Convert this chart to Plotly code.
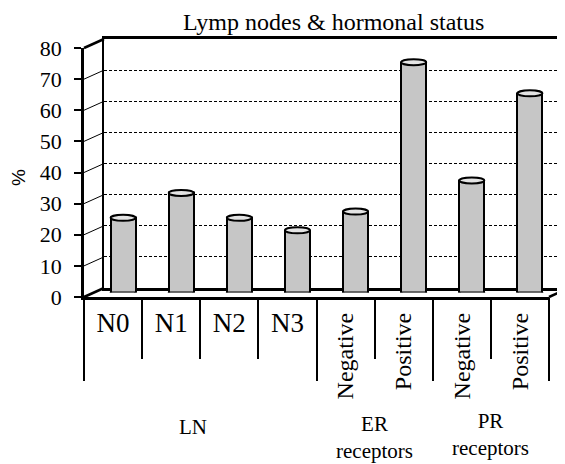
import plotly.graph_objects as go

# ---------------- data ----------------
categories = ["N0", "N1", "N2", "N3", "Negative", "Positive", "Negative", "Positive"]
values = [24, 32, 24, 20, 26, 74, 36, 64]
group_labels = ["LN", "ER<br>receptors", "PR<br>receptors"]
group_bounds = [0, 4, 6, 8]
y_ticks = [0, 10, 20, 30, 40, 50, 60, 70, 80]
title_text = "Lymp nodes & hormonal status"
y_title = "%"

# ---------------- geometry (window pixels) ----------------
W, H = 565, 464
OFF = 8  # page body margin
def px(x):
    return (x - OFF) / W
def py(y):
    return 1 - (y - OFF) / H

FX0, FX1 = 84, 549          # front frame x extents
FY0, FY80 = 297, 48         # front frame y for 0 and 80
DX, DY = 20, 9              # depth offset
BX0, BY0, BY80 = FX0 + DX, FY0 - DY, FY80 - DY
MX0, MX1 = FX0 + DX / 2, FX1 + DX / 2
MY0, MY80 = FY0 - DY / 2, FY80 - DY / 2

SERIF = "Liberation Serif"
n = len(values)
ymax = y_ticks[-1]
unit_px = (MY0 - MY80) / ymax
cap = 3.0 / unit_px
bw = 0.43

fig = go.Figure()

fig.add_trace(go.Scatter(x=[None], y=[None], xaxis="x", yaxis="y",
                         showlegend=False, hoverinfo="skip"))
fig.add_trace(go.Bar(
    x=list(range(n)), y=values, xaxis="x2", yaxis="y2", width=bw,
    marker=dict(color="#c6c6c6", line=dict(color="black", width=2)),
    showlegend=False, hoverinfo="skip"))
fig.add_trace(go.Scatter(x=[None], y=[None], xaxis="x3", yaxis="y3",
                         showlegend=False, hoverinfo="skip"))
for ax in ["x4", "x5", "x6"]:
    fig.add_trace(go.Scatter(x=[None], y=[None], xaxis=ax, yaxis="y3",
                             showlegend=False, hoverinfo="skip"))

shapes = []
for i, v in enumerate(values):
    shapes.append(dict(type="circle", xref="x2", yref="y2", layer="below",
                       x0=i - bw / 2, x1=i + bw / 2, y0=-cap, y1=cap,
                       fillcolor="#c6c6c6", line=dict(color="black", width=2)))
    shapes.append(dict(type="circle", xref="x2", yref="y2", layer="above",
                       x0=i - bw / 2, x1=i + bw / 2, y0=v - cap, y1=v + cap,
                       fillcolor="#e4e4e4", line=dict(color="black", width=2)))

def fy(v):
    return FY0 - (FY0 - FY80) * v / ymax
def by(v):
    return BY0 - (BY0 - BY80) * v / ymax
for v in y_ticks:
    thick = v in (y_ticks[0], y_ticks[-1])
    shapes.append(dict(type="line", xref="paper", yref="paper",
                       x0=px(FX0), y0=py(fy(v)), x1=px(BX0), y1=py(by(v)),
                       line=dict(color="black", width=2.5 if thick else 1)))
shapes.append(dict(type="line", xref="paper", yref="paper",
                   x0=px(FX1), y0=py(FY0), x1=px(FX1 + DX), y1=py(BY0),
                   line=dict(color="black", width=2.5)))

annotations = [
    dict(text=title_text, x=px(333), y=py(22), xref="paper", yref="paper",
         xanchor="center", yanchor="middle",
         showarrow=False, font=dict(family=SERIF, size=24, color="black")),
    dict(text=y_title, x=px(18), y=py(178), xref="paper", yref="paper",
         xanchor="center", yanchor="middle",
         showarrow=False, textangle=-90,
         font=dict(family="Liberation Sans", size=19, color="black")),
]
group_y = [427, 437, 434]
group_xshift = [-7, 0, 0]
for k, lab in enumerate(group_labels):
    c = (group_bounds[k] + group_bounds[k + 1]) / 2
    annotations.append(dict(text=lab, x=c, y=py(group_y[k]), xref="x3", yref="paper",
                            xanchor="center", yanchor="middle",
                            showarrow=False, xshift=group_xshift[k],
                            font=dict(family=SERIF, size=21, color="black")))

common = dict(automargin=False, fixedrange=True, zeroline=False)

fig.update_layout(
    template="none",
    width=W, height=H,
    margin=dict(l=0, r=0, t=0, b=0, autoexpand=False),
    paper_bgcolor="white", plot_bgcolor="rgba(0,0,0,0)",
    shapes=shapes, annotations=annotations,
    bargap=0,
    xaxis=dict(domain=[px(BX0), 1], range=[0, 1], anchor="y",
               showline=True, mirror=True, linecolor="black", linewidth=2.5,
               showgrid=False, ticks="", showticklabels=False, **common),
    yaxis=dict(domain=[py(BY0), py(BY80)], range=[0, ymax], anchor="x",
               showline=True, linecolor="black", linewidth=1.5,
               showgrid=True, gridcolor="black", gridwidth=1, griddash="3px,2px",
               tickvals=y_ticks[1:-1], ticks="",
               showticklabels=False, **common),
    xaxis2=dict(domain=[px(MX0), px(MX1)], range=[-0.5, n - 0.5], anchor="y2",
                showline=False, showgrid=False, ticks="",
                showticklabels=False, **common),
    yaxis2=dict(domain=[py(MY0), py(MY80)], range=[0, ymax], anchor="x2",
                showline=False, showgrid=False, ticks="",
                showticklabels=False, **common),
    xaxis3=dict(domain=[px(FX0), px(FX1)], range=[0, n], anchor="y3",
                showline=True, linecolor="black", linewidth=2.5, showgrid=False,
                tickvals=list(range(n + 1)), ticks="outside", ticklen=59,
                tickwidth=2, tickcolor="black", showticklabels=False, **common),
    xaxis4=dict(overlaying="x3", range=[0, n], anchor="y3", side="bottom",
                showline=False, showgrid=False,
                tickvals=group_bounds, ticks="outside", ticklen=83,
                tickwidth=2, tickcolor="black", showticklabels=False, **common),
    xaxis5=dict(overlaying="x3", range=[0, n], anchor="y3", side="bottom",
                showline=False, showgrid=False,
                tickvals=[i + 0.5 for i in range(4)], ticktext=categories[:4],
                ticks="", tickangle=0, ticklabelstandoff=7,
                tickfont=dict(family=SERIF, size=27, color="black"), **common),
    xaxis6=dict(overlaying="x3", range=[0, n], anchor="y3", side="bottom",
                showline=False, showgrid=False,
                tickvals=[i + 0.5 for i in range(4, n)], ticktext=categories[4:],
                ticks="", tickangle=-90, ticklabelstandoff=10,
                tickfont=dict(family=SERIF, size=24, color="black"), **common),
    yaxis3=dict(domain=[py(FY0), py(FY80)], range=[0, ymax], anchor="x3",
                showline=True, linecolor="black", linewidth=2.5, showgrid=False,
                tickvals=y_ticks, ticks="outside", ticklen=7, tickwidth=2,
                tickcolor="black", ticklabelstandoff=8,
                tickfont=dict(family=SERIF, size=22, color="black"), **common),
)

fig.write_html("out.html")
